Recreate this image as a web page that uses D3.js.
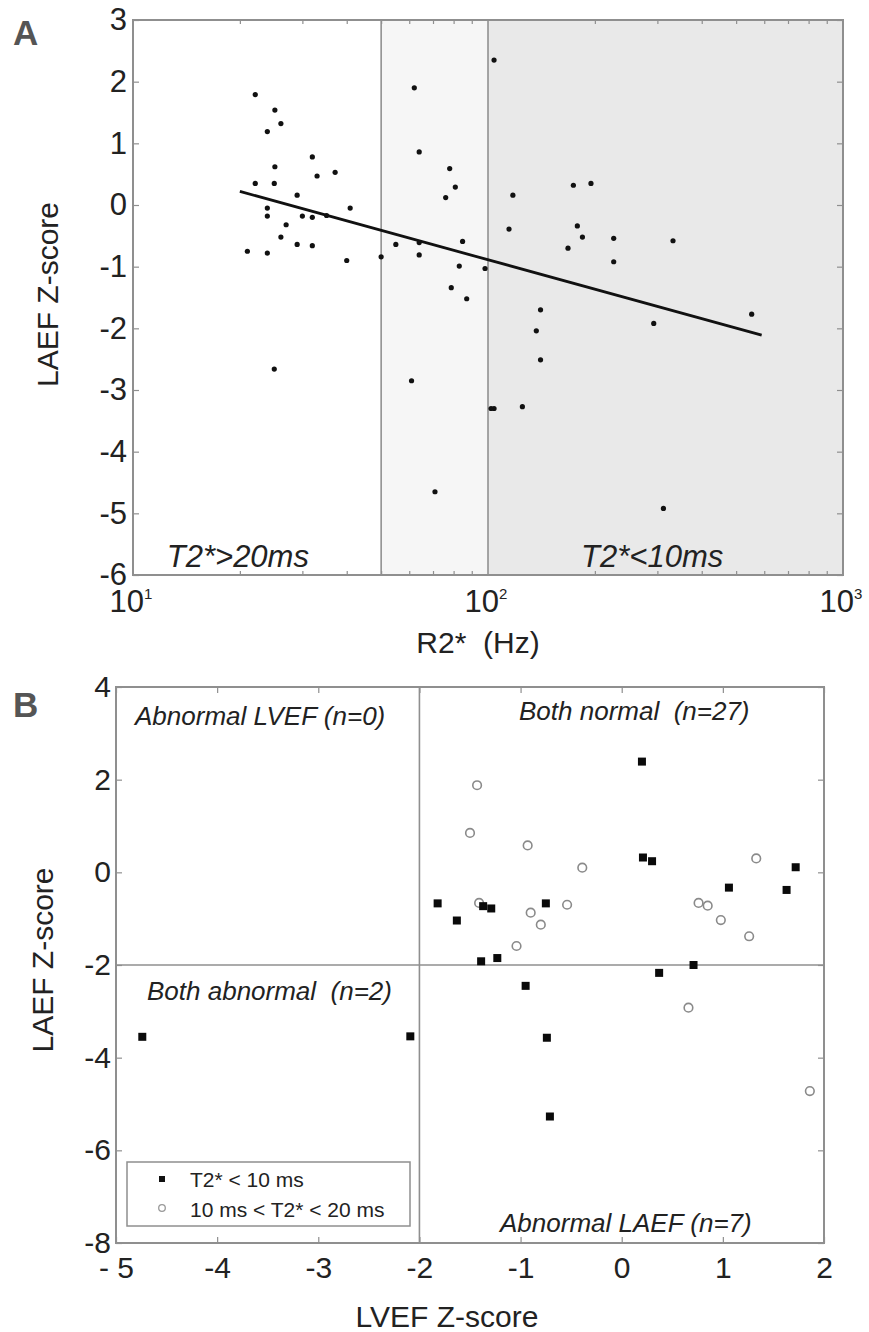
<!DOCTYPE html>
<html>
<head>
<meta charset="utf-8">
<script src="https://cdn.jsdelivr.net/npm/d3@7"></script>
<style>
  body { margin: 0; background: #fff; }
  svg text { font-family: "Liberation Sans", Arial, sans-serif; fill: #222; white-space: pre; }
</style>
</head>
<body>
<div id="graph"></div>
<script>
// panel A data: R2* (Hz) vs LAEF z-score
const r2Hz = [22.1, 25.1, 26.1, 23.9, 32.0, 25.1, 37.1, 33.0, 22.1, 25.0, 29.0, 23.9, 23.9, 40.9, 30.0, 32.0,
  35.1, 27.0, 26.1, 29.0, 32.0, 21.0, 23.9, 40.0, 50.0, 55.0, 62.0, 64.0, 64.0, 64.0, 25.0, 60.9, 70.9,
  78.0, 80.9, 76.0, 84.8, 83.0, 98.1, 78.8, 87.1, 104, 117.5, 114.6, 174, 195, 178.5, 184.5, 168, 226, 226,
  332, 140.6, 136.8, 293, 553, 140.6, 104, 102, 125, 312]
const laefA = [1.79, 1.54, 1.32, 1.19, 0.78, 0.62, 0.53, 0.47, 0.35, 0.35, 0.16, -0.05, -0.18, -0.05, -0.18, -0.20,
  -0.17, -0.32, -0.52, -0.64, -0.66, -0.75, -0.78, -0.90, -0.84, -0.64, 1.90, 0.86, -0.61, -0.81, -2.66, -2.85, -4.65,
  0.59, 0.29, 0.12, -0.59, -0.99, -1.03, -1.34, -1.52, 2.35, 0.16, -0.39, 0.32, 0.35, -0.34, -0.52, -0.70, -0.54, -0.92,
  -0.58, -1.70, -2.04, -1.92, -1.77, -2.51, -3.30, -3.30, -3.27, -4.92]
const fitHz = [20, 590]
const fitZ = [0.22, -2.11]
const xTicksA = [10, 100, 1000]
const xTickExpA = ['1', '2', '3']
const yTicksA = [3, 2, 1, 0, -1, -2, -3, -4, -5, -6]

// panel B data: LVEF vs LAEF z-score
const lvefSquare = [0.20, 0.21, 0.30, 1.72, 1.06, 1.63, -1.82, -1.63, -1.37, -1.29, -0.75, -1.39, -1.23, 0.37, 0.71,
  -0.95, -0.74, -0.71, -2.09, -4.74]
const laefSquare = [2.39, 0.32, 0.24, 0.11, -0.33, -0.38, -0.67, -1.04, -0.73, -0.78, -0.67, -1.92, -1.85, -2.17, -2.0,
  -2.45, -3.57, -5.27, -3.54, -3.55]
const lvefCircle = [-1.43, -1.50, -0.93, -0.39, 1.33, -1.41, -0.54, -0.90, -0.80, -1.04, 0.76, 0.85, 0.98, 1.26, 0.66, 1.86]
const laefCircle = [1.88, 0.85, 0.58, 0.10, 0.30, -0.66, -0.70, -0.87, -1.13, -1.59, -0.66, -0.72, -1.03, -1.38, -2.92, -4.72]
const xTicksB = [-5, -4, -3, -2, -1, 0, 1, 2]
const xTickLabelsB = ['- 5', '-4', '-3', '-2', '-1', '0', '1', '2']
const yTicksB = [4, 2, 0, -2, -4, -6, -8]
const quadrantLabels = ['Abnormal LVEF (n=0)', 'Both normal  (n=27)', 'Both abnormal  (n=2)', 'Abnormal LAEF (n=7)']
const legendLabels = ['T2* < 10 ms', '10 ms < T2* < 20 ms']

const frameColor = '#8f8f8f'
const hyphen = d => String(d).replace('\u2212', '-')

const svg = d3.select('#graph')
  .append('svg')
  .attr('width', 869)
  .attr('height', 1332)

// ---------- panel A ----------
const a = {left: 133, top: 20, right: 843, bottom: 575}

const xA = d3.scaleLog().domain([10, 1000]).range([a.left, a.right])
const yA = d3.scaleLinear().domain([-6, 3]).range([a.bottom, a.top])

// shaded bands
svg.append('rect')
  .attr('x', xA(50)).attr('y', a.top)
  .attr('width', xA(100) - xA(50)).attr('height', a.bottom - a.top)
  .attr('fill', '#f6f6f6')
svg.append('rect')
  .attr('x', xA(100)).attr('y', a.top)
  .attr('width', xA(1000) - xA(100)).attr('height', a.bottom - a.top)
  .attr('fill', '#e9e9e9')

// band borders
;[50, 100].forEach(v => {
  svg.append('line')
    .attr('x1', xA(v)).attr('x2', xA(v))
    .attr('y1', a.top).attr('y2', a.bottom)
    .attr('stroke', '#8a8a8a').attr('stroke-width', 1.5)
})

// minor log ticks
const minorA = []
;[10, 100].forEach(d => { for (let k = 2; k <= 9; k++) minorA.push(d * k) })

const tickA = (sel, axis) => {
  sel.call(axis)
  sel.select('.domain').remove()
  sel.selectAll('.tick line').attr('stroke', frameColor).attr('stroke-width', 1.2)
  sel.selectAll('.tick text').remove()
}

svg.append('g').attr('transform', `translate(0,${a.bottom})`)
  .call(tickA, d3.axisBottom(xA).tickValues(minorA).tickSize(-4))
svg.append('g').attr('transform', `translate(0,${a.top})`)
  .call(tickA, d3.axisTop(xA).tickValues(minorA).tickSize(-4))
svg.append('g').attr('transform', `translate(${a.right},0)`)
  .call(tickA, d3.axisRight(yA).tickValues(yTicksA).tickSize(-6))
svg.append('g').attr('transform', `translate(${a.left},0)`)
  .call(tickA, d3.axisLeft(yA).tickValues(yTicksA).tickSize(-6))

// y tick labels
const yAxA = svg.append('g').attr('transform', `translate(${a.left},0)`)
  .call(d3.axisLeft(yA).tickValues(yTicksA).tickSize(0).tickPadding(6).tickFormat(hyphen))
yAxA.select('.domain').remove()
yAxA.selectAll('.tick text')
  .attr('font-size', 31)
  .attr('fill', '#222')
  .attr('font-family', '"Liberation Sans", Arial, sans-serif')

// x tick labels with exponent
xTicksA.forEach((v, i) => {
  const t = svg.append('text')
    .attr('x', xA(v) - 2)
    .attr('y', 612)
    .attr('text-anchor', 'middle')
    .attr('font-size', 31)
  t.append('tspan').text('10')
  t.append('tspan').attr('dy', -13).attr('font-size', 15).text(xTickExpA[i])
})

// frame
svg.append('rect')
  .attr('x', a.left).attr('y', a.top)
  .attr('width', a.right - a.left).attr('height', a.bottom - a.top)
  .attr('fill', 'none').attr('stroke', frameColor).attr('stroke-width', 2)

// regression line
svg.append('path')
  .datum(d3.zip(fitHz, fitZ))
  .attr('d', d3.line().x(d => xA(d[0])).y(d => yA(d[1])))
  .attr('fill', 'none')
  .attr('stroke', '#111')
  .attr('stroke-width', 2.8)

// points
svg.append('g').selectAll('circle')
  .data(d3.zip(r2Hz, laefA))
  .join('circle')
  .attr('cx', d => xA(d[0]))
  .attr('cy', d => yA(d[1]))
  .attr('r', 2.6)
  .attr('fill', '#111')

// band captions
svg.append('text').attr('x', xA(12.45)).attr('y', 567)
  .attr('font-size', 31).attr('font-style', 'italic').text('T2*>20ms')
svg.append('text').attr('x', xA(290)).attr('y', 567)
  .attr('font-size', 31).attr('font-style', 'italic').attr('text-anchor', 'middle').text('T2*<10ms')

// axis titles
svg.append('text')
  .attr('transform', `translate(58,${(a.top + a.bottom) / 2 - 3}) rotate(-90)`)
  .attr('text-anchor', 'middle')
  .attr('font-size', 30)
  .text('LAEF Z-score')
svg.append('text')
  .attr('x', 478).attr('y', 653)
  .attr('text-anchor', 'middle')
  .attr('font-size', 30)
  .text('R2*  (Hz)')

svg.append('text').attr('x', 13).attr('y', 45)
  .attr('font-size', 35).attr('font-weight', 'bold')
  .style('fill', '#555').text('A')

// ---------- panel B ----------
const b = {left: 116, top: 687, right: 824, bottom: 1243}

const xB = d3.scaleLinear().domain([-5, 2]).range([b.left, b.right])
const yB = d3.scaleLinear().domain([-8, 4]).range([b.bottom, b.top])

svg.append('g').attr('transform', `translate(0,${b.bottom})`)
  .call(tickA, d3.axisBottom(xB).tickValues(xTicksB).tickSize(-6))
svg.append('g').attr('transform', `translate(0,${b.top})`)
  .call(tickA, d3.axisTop(xB).tickValues(xTicksB).tickSize(-6))
svg.append('g').attr('transform', `translate(${b.left},0)`)
  .call(tickA, d3.axisLeft(yB).tickValues(yTicksB).tickSize(-6))
svg.append('g').attr('transform', `translate(${b.right},0)`)
  .call(tickA, d3.axisRight(yB).tickValues(yTicksB).tickSize(-6))

const yAxB = svg.append('g').attr('transform', `translate(${b.left},0)`)
  .call(d3.axisLeft(yB).tickValues(yTicksB).tickSize(0).tickPadding(5).tickFormat(hyphen))
yAxB.select('.domain').remove()
yAxB.selectAll('.tick text')
  .attr('font-size', 30)
  .attr('font-family', '"Liberation Sans", Arial, sans-serif')

const xAxB = svg.append('g').attr('transform', `translate(0,${b.bottom})`)
  .call(d3.axisBottom(xB).tickValues(xTicksB).tickSize(0).tickPadding(14)
    .tickFormat((d, i) => xTickLabelsB[i]))
xAxB.select('.domain').remove()
xAxB.selectAll('.tick text')
  .attr('font-size', 30)
  .attr('font-family', '"Liberation Sans", Arial, sans-serif')

// quadrant dividers
svg.append('line')
  .attr('x1', xB(-2)).attr('x2', xB(-2))
  .attr('y1', b.top).attr('y2', b.bottom)
  .attr('stroke', frameColor).attr('stroke-width', 1.6)
svg.append('line')
  .attr('x1', b.left).attr('x2', b.right)
  .attr('y1', yB(-2)).attr('y2', yB(-2))
  .attr('stroke', frameColor).attr('stroke-width', 1.6)

svg.append('rect')
  .attr('x', b.left).attr('y', b.top)
  .attr('width', b.right - b.left).attr('height', b.bottom - b.top)
  .attr('fill', 'none').attr('stroke', frameColor).attr('stroke-width', 2)

// quadrant captions
const qPos = [[135, 725], [519, 720], [147, 1000], [500, 1232]]
quadrantLabels.forEach((s, i) => {
  svg.append('text')
    .attr('x', qPos[i][0]).attr('y', qPos[i][1])
    .attr('font-size', 26)
    .attr('font-style', 'italic')
    .text(s)
})

// markers
svg.append('g').selectAll('circle')
  .data(d3.zip(lvefCircle, laefCircle))
  .join('circle')
  .attr('cx', d => xB(d[0]))
  .attr('cy', d => yB(d[1]))
  .attr('r', 4.3)
  .attr('fill', 'none')
  .attr('stroke', '#8a8a8a')
  .attr('stroke-width', 1.6)

svg.append('g').selectAll('rect')
  .data(d3.zip(lvefSquare, laefSquare))
  .join('rect')
  .attr('x', d => xB(d[0]) - 4)
  .attr('y', d => yB(d[1]) - 4)
  .attr('width', 8)
  .attr('height', 8)
  .attr('fill', '#0a0a0a')

// legend
const legend = svg.append('g').attr('transform', 'translate(127,1162)')
legend.append('rect')
  .attr('width', 283).attr('height', 64)
  .attr('fill', '#fff').attr('stroke', frameColor).attr('stroke-width', 1.5)
legend.append('rect').attr('x', 32).attr('y', 14).attr('width', 6).attr('height', 6).attr('fill', '#111')
legend.append('circle').attr('cx', 35).attr('cy', 46).attr('r', 3.3)
  .attr('fill', 'none').attr('stroke', '#999').attr('stroke-width', 1.3)
legendLabels.forEach((s, i) => {
  legend.append('text')
    .attr('x', 63).attr('y', 25 + i * 30)
    .attr('font-size', 21)
    .text(s)
})

// axis titles
svg.append('text')
  .attr('transform', `translate(53,${yB(-2) - 5}) rotate(-90)`)
  .attr('text-anchor', 'middle')
  .attr('font-size', 30)
  .text('LAEF Z-score')
svg.append('text')
  .attr('x', 447).attr('y', 1327)
  .attr('text-anchor', 'middle')
  .attr('font-size', 30)
  .text('LVEF Z-score')

svg.append('text').attr('x', 13).attr('y', 717)
  .attr('font-size', 35).attr('font-weight', 'bold')
  .style('fill', '#555').text('B')
</script>
</body>
</html>
